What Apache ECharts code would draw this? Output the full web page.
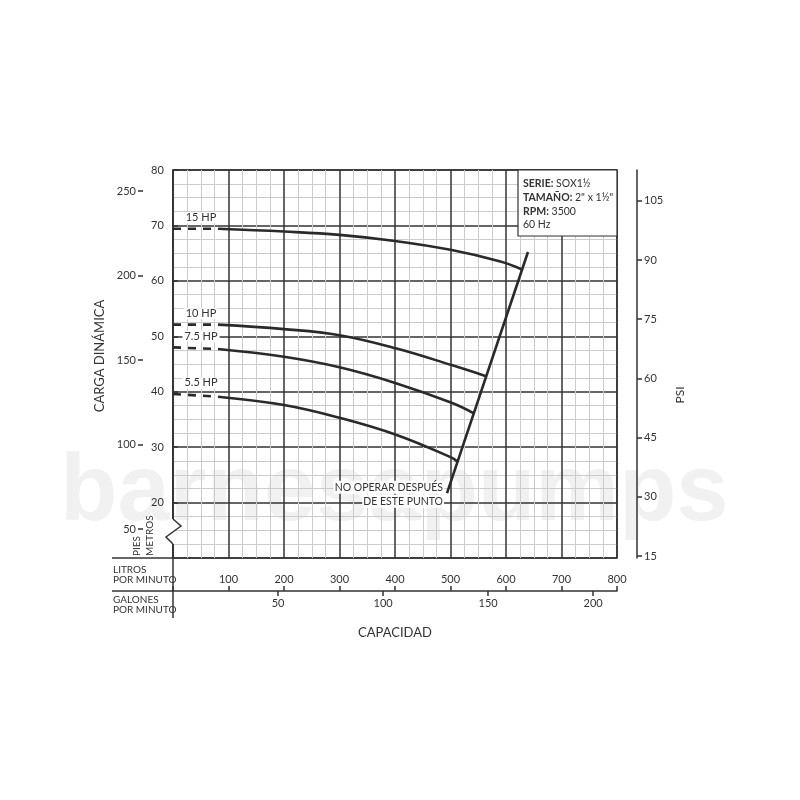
<!DOCTYPE html>
<html>
<head>
<meta charset="utf-8">
<script src="https://cdn.jsdelivr.net/npm/echarts@6.0.0/dist/echarts.min.js"></script>
<style>html,body{margin:0;padding:0;background:#fff}#c{width:800px;height:800px}</style>
</head>
<body>
<div id="c"></div>
<script>
// ---------- data (litros por minuto, metros) ----------
const litrosTicks = [100, 200, 300, 400, 500, 600, 700, 800];
const galonesTicks = [50, 100, 150, 200];
const metrosTicks = [20, 30, 40, 50, 60, 70, 80];
const piesTicks = [50, 100, 150, 200, 250];
const psiTicks = [15, 30, 45, 60, 75, 90, 105];

const hpNames = ['15 HP', '10 HP', '7.5 HP', '5.5 HP'];
const hp15Dash = [[0, 69.4], [81, 69.4]];
const hp15 = [[81, 69.4], [200, 68.9], [300, 68.3], [400, 67.2], [500, 65.6], [590, 63.5], [628, 62.1]];
const hp10Dash = [[0, 52.1], [81, 52.1]];
const hp10 = [[81, 52.1], [200, 51.3], [300, 50.2], [403, 47.8], [502, 44.8], [564, 42.8]];
const hp75Dash = [[0, 48.0], [81, 47.7]];
const hp75 = [[81, 47.7], [200, 46.3], [300, 44.4], [403, 41.5], [502, 38.0], [542, 36.1]];
const hp55Dash = [[0, 39.6], [81, 39.1]];
const hp55 = [[81, 39.1], [200, 37.6], [300, 35.3], [403, 32.2], [502, 28.1], [512, 27.4]];
const limitLine = [[493.7, 21.7], [639.6, 65.2]];

const infoLines = ['{b|SERIE:} SOX1½', '{b|TAMAÑO:} 2" x 1½"', '{b|RPM:} 3500', '60 Hz'];

// ---------- scales ----------
const LPM_MIN = 0, LPM_MAX = 800, M_MIN = 10, M_MAX = 80;
const GPM_MAX = LPM_MAX / 3.78541;
const FT_MIN = M_MIN / 0.3048, FT_MAX = M_MAX / 0.3048;
const PSI_MIN = 14.5, PSI_MAX = 112.8;

const INK = '#333333';
const LINE = '#2a2a2a';
const FONT = 'Lato';

const chart = echarts.init(document.getElementById('c'));

const curves = [[hp15Dash, hp15], [hp10Dash, hp10], [hp75Dash, hp75], [hp55Dash, hp55]];
const series = [];
curves.forEach(([dash, solid], i) => {
  series.push({
    type: 'line', name: hpNames[i] + ' dash', data: dash, showSymbol: false, silent: true,
    lineStyle: { color: LINE, width: 2.6, type: [8, 7] }, z: 5,
    markPoint: {
      symbol: 'circle', symbolSize: 1, itemStyle: { color: 'rgba(0,0,0,0)' },
      data: [{ coord: dash[0] }],
      label: {
        show: true, position: 'inside', formatter: hpNames[i], offset: [28, -11],
        color: INK, fontSize: 11, fontFamily: FONT,
        backgroundColor: '#fff', padding: [0, 2]
      }
    }
  });
  series.push({
    type: 'line', name: hpNames[i], data: solid, showSymbol: false, silent: true, smooth: 0.4,
    lineStyle: { color: LINE, width: 2.6 }, z: 5
  });
});
series.push({
  type: 'line', name: 'limite', data: limitLine, showSymbol: false, silent: true,
  lineStyle: { color: LINE, width: 2.6 }, z: 6,
  markPoint: {
    symbol: 'circle', symbolSize: 1, itemStyle: { color: 'rgba(0,0,0,0)' },
    data: [{ coord: limitLine[0] }],
    label: {
      show: true, position: 'inside', align: 'right', offset: [-3, 1],
      formatter: '{a|NO OPERAR DESPUÉS}\n{a|DE ESTE PUNTO}',
      rich: { a: { backgroundColor: '#fff', padding: [1, 1], fontSize: 10.5, color: INK, fontFamily: FONT, lineHeight: 14, align: 'right' } }
    }
  }
});

const grid = { left: 173, right: 183, top: 170, bottom: 242 };
const gl = grid.left, gr = 800 - grid.right, gt = grid.top, gb = 800 - grid.bottom;

chart.setOption({
  animation: false,
  backgroundColor: '#fff',
  textStyle: { fontFamily: FONT },
  grid: Object.assign({ show: true, borderColor: INK, borderWidth: 1.5, containLabel: false }, grid),
  xAxis: [
    {
      type: 'value', min: LPM_MIN, max: LPM_MAX, interval: 100, position: 'bottom', offset: 33,
      axisLine: { show: true, lineStyle: { color: INK, width: 1.5 } },
      axisTick: { show: true, inside: true, length: 5, lineStyle: { color: INK, width: 1.5 } },
      axisLabel: { show: true, inside: true, margin: 6, color: INK, fontSize: 11, fontFamily: FONT,
        customValues: litrosTicks },
      splitLine: { show: true, lineStyle: { color: INK, width: 1.5 } },
      minorTick: { show: false, splitNumber: 4 },
      minorSplitLine: { show: true, lineStyle: { color: '#cccccc', width: 1 } }
    },
    {
      type: 'value', min: 0, max: GPM_MAX, position: 'bottom', offset: 33,
      axisLine: { show: false },
      axisTick: { show: true, length: 5, customValues: galonesTicks, lineStyle: { color: INK, width: 1.5 } },
      axisLabel: { show: true, margin: 7, color: INK, fontSize: 11, fontFamily: FONT, customValues: galonesTicks },
      splitLine: { show: false },
      name: 'CAPACIDAD', nameLocation: 'middle', nameGap: 35,
      nameTextStyle: { color: INK, fontSize: 13, fontFamily: FONT }
    }
  ],
  yAxis: [
    {
      type: 'value', min: M_MIN, max: M_MAX, interval: 10,
      axisLine: { show: false }, axisTick: { show: false }, axisLabel: { show: false },
      splitLine: { show: true, lineStyle: { color: INK, width: 1.5 } },
      minorTick: { show: false, splitNumber: 4 },
      minorSplitLine: { show: true, lineStyle: { color: '#cccccc', width: 1 } }
    },
    {
      type: 'value', min: M_MIN, max: M_MAX, interval: 10, position: 'left', offset: 30,
      axisLine: { show: true, lineStyle: { color: INK, width: 1.5 } },
      axisTick: { show: true, inside: true, length: 5, customValues: metrosTicks, lineStyle: { color: INK, width: 1.5 } },
      axisLabel: { show: true, inside: true, margin: 8, color: INK, fontSize: 11, fontFamily: FONT, customValues: metrosTicks },
      splitLine: { show: false }
    },
    {
      type: 'value', min: FT_MIN, max: FT_MAX, position: 'left', offset: 30,
      axisLine: { show: false },
      axisTick: { show: true, length: 5, customValues: piesTicks, lineStyle: { color: INK, width: 1.5 } },
      axisLabel: { show: true, margin: 7, color: INK, fontSize: 11, fontFamily: FONT, customValues: piesTicks },
      splitLine: { show: false },
      name: 'CARGA DINÁMICA', nameLocation: 'middle', nameGap: 33, nameRotate: 90,
      nameTextStyle: { color: INK, fontSize: 13, fontFamily: FONT, padding: [0, 0, 0, 16] }
    },
    {
      type: 'value', min: PSI_MIN, max: PSI_MAX, position: 'right', offset: 20,
      axisLine: { show: true, lineStyle: { color: INK, width: 1.5 } },
      axisTick: { show: true, length: 5, customValues: psiTicks, lineStyle: { color: INK, width: 1.5 } },
      axisLabel: { show: true, margin: 7, color: INK, fontSize: 11, fontFamily: FONT, customValues: psiTicks },
      splitLine: { show: false },
      name: 'PSI', nameLocation: 'middle', nameGap: 33, nameRotate: 90,
      nameTextStyle: { color: INK, fontSize: 12, fontFamily: FONT, padding: [0, 62, 0, 0] }
    }
  ],
  series: series,
  graphic: [
    // watermark
    { type: 'text', z: -10, x: 60, y: 447, style: { text: 'barnesapumps', fill: '#f1f1f1',
      font: 'bold 94px "Liberation Sans", sans-serif', verticalAlign: 'top' } },
    // table lines below the plot
    { type: 'line', z: 10, shape: { x1: 112, y1: gb, x2: gl, y2: gb }, style: { stroke: INK, lineWidth: 1.5 } },
    { type: 'line', z: 10, shape: { x1: 112, y1: gb + 33, x2: gl, y2: gb + 33 }, style: { stroke: INK, lineWidth: 1.5 } },
    { type: 'line', z: 10, shape: { x1: gl, y1: gb, x2: gl, y2: gb + 60 }, style: { stroke: INK, lineWidth: 1.5 } },
    { type: 'text', z: 10, x: 113, y: 565, style: { text: 'LITROS\nPOR MINUTO', fill: INK, font: '10px Lato', lineHeight: 10 } },
    { type: 'text', z: 10, x: 113, y: 595, style: { text: 'GALONES\nPOR MINUTO', fill: INK, font: '10px Lato', lineHeight: 10 } },
    { type: 'text', z: 10, x: 132, y: 556, rotation: Math.PI / 2, style: { text: 'PIES', fill: INK, font: '10px Lato' } },
    { type: 'text', z: 10, x: 145, y: 556, rotation: Math.PI / 2, style: { text: 'METROS', fill: INK, font: '10px Lato' } },
    // axis break
    { type: 'rect', z: 10, shape: { x: gl - 2, y: 519, width: 4, height: 25 }, style: { fill: '#fff' } },
    { type: 'polyline', z: 11, shape: { points: [[gl, 519], [gl + 8, 526], [gl - 7, 537], [gl, 544]] },
      style: { stroke: INK, lineWidth: 1.5, fill: null } },
    // info box
    { type: 'rect', z: 20, shape: { x: 518, y: gt, width: gr - 518, height: 66 }, style: { fill: '#fff', stroke: INK, lineWidth: 1.2 } },
    { type: 'text', z: 21, x: 523, y: 177, style: { text: infoLines.join('\n'), fill: INK, fontSize: 10.5, fontFamily: FONT, lineHeight: 13.7,
      rich: { b: { fontWeight: 'bold', fontSize: 10.5, fontFamily: FONT, fill: INK, lineHeight: 13.7 } } } }
  ]
});
</script>
</body>
</html>
